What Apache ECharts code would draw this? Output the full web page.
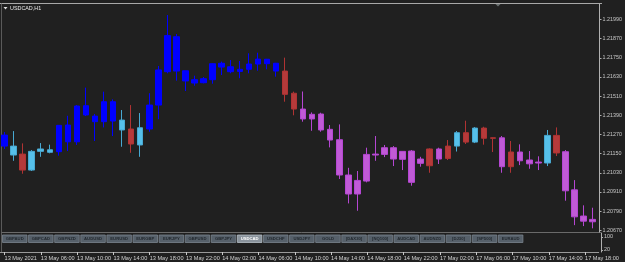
<!DOCTYPE html>
<html>
<head>
<meta charset="utf-8">
<script src="https://cdn.jsdelivr.net/npm/echarts@6/dist/echarts.min.js"></script>
<style>
  html, body { margin: 0; padding: 0; background: #202020; }
  #chart { width: 625px; height: 262px; }
</style>
</head>
<body>
<div id="chart"></div>
<script>
// USDCAD H1, 13 May 02:00 .. 17 May 19:00
const times = [
  "13 May 02:00","13 May 03:00","13 May 04:00","13 May 05:00","13 May 06:00","13 May 07:00","13 May 08:00","13 May 09:00",
  "13 May 10:00","13 May 11:00","13 May 12:00","13 May 13:00","13 May 14:00","13 May 15:00","13 May 16:00","13 May 17:00",
  "13 May 18:00","13 May 19:00","13 May 20:00","13 May 21:00","13 May 22:00","13 May 23:00",
  "14 May 00:00","14 May 01:00","14 May 02:00","14 May 03:00","14 May 04:00","14 May 05:00","14 May 06:00","14 May 07:00",
  "14 May 08:00","14 May 09:00","14 May 10:00","14 May 11:00","14 May 12:00","14 May 13:00","14 May 14:00","14 May 15:00",
  "14 May 16:00","14 May 17:00","14 May 18:00","14 May 19:00","14 May 20:00","14 May 21:00","14 May 22:00","14 May 23:00",
  "17 May 00:00","17 May 01:00","17 May 02:00","17 May 03:00","17 May 04:00","17 May 05:00","17 May 06:00","17 May 07:00",
  "17 May 08:00","17 May 09:00","17 May 10:00","17 May 11:00","17 May 12:00","17 May 13:00","17 May 14:00","17 May 15:00",
  "17 May 16:00","17 May 17:00","17 May 18:00","17 May 19:00"
];
const opens = [
  1.21266,1.21141,1.21147,1.21047,1.21164,1.21158,1.21162,1.21329,1.21224,1.21450,
  1.21385,1.21350,1.21475,1.21298,1.21304,1.21204,1.21304,1.21454,1.21663,1.21882,
  1.21669,1.21613,1.21594,1.21613,1.21716,1.21694,1.21665,1.21678,1.21711,1.21741,
  1.21716,1.21667,1.21528,1.21429,1.21367,1.21398,1.21302,1.21237,1.21016,1.20897,
  1.20978,1.21147,1.21145,1.21187,1.21114,1.21166,1.21116,1.21179,1.21116,1.21197,
  1.21197,1.21281,1.21222,1.21310,1.21249,1.21249,1.21160,1.21105,1.21110,1.21091,
  1.21091,1.21264,1.21162,1.20923,1.20759,1.20723
];
const closes = [
  1.21197,1.21197,1.21047,1.21164,1.21179,1.21174,1.21327,1.21224,1.21448,1.21392,
  1.21350,1.21475,1.21354,1.21360,1.21210,1.21312,1.21454,1.21674,1.21889,1.21667,
  1.21605,1.21592,1.21619,1.21713,1.21692,1.21663,1.21678,1.21711,1.21742,1.21713,
  1.21667,1.21521,1.21429,1.21367,1.21396,1.21298,1.21235,1.21016,1.20897,1.20982,
  1.21145,1.21141,1.21187,1.21116,1.21164,1.20970,1.21089,1.21074,1.21179,1.21120,
  1.21281,1.21222,1.21310,1.21246,1.21246,1.21068,1.21068,1.21160,1.21086,1.21097,
  1.21264,1.21154,1.20917,1.20754,1.20727,1.20738
];
const lows = [
  1.21179,1.21105,1.21024,1.21041,1.21130,1.21152,1.21137,1.21166,1.21204,1.21385,
  1.21229,1.21314,1.21260,1.21193,1.21155,1.21130,1.21287,1.21365,1.21653,1.21607,
  1.21542,1.21575,1.21590,1.21588,1.21642,1.21653,1.21622,1.21653,1.21669,1.21678,
  1.21632,1.21475,1.21390,1.21350,1.21293,1.21287,1.21189,1.20991,1.20838,1.20792,
  1.20970,1.21105,1.21128,1.21072,1.21047,1.20949,1.21068,1.21030,1.21085,1.21110,
  1.21163,1.21210,1.21216,1.21206,1.21160,1.21030,1.21030,1.21078,1.21055,1.21047,
  1.21072,1.21135,1.20855,1.20702,1.20696,1.20682
];
const highs = [
  1.21285,1.21291,1.21214,1.21172,1.21216,1.21206,1.21329,1.21387,1.21454,1.21563,
  1.21398,1.21538,1.21490,1.21423,1.21454,1.21404,1.21528,1.21699,1.22018,1.21899,
  1.21669,1.21638,1.21630,1.21716,1.21726,1.21736,1.21730,1.21778,1.21782,1.21743,
  1.21718,1.21751,1.21538,1.21539,1.21408,1.21406,1.21329,1.21333,1.21061,1.21041,
  1.21187,1.21260,1.21204,1.21197,1.21166,1.21172,1.21130,1.21183,1.21187,1.21235,
  1.21291,1.21356,1.21316,1.21318,1.21251,1.21260,1.21229,1.21208,1.21166,1.21133,
  1.21298,1.21314,1.21172,1.20984,1.20826,1.20811
];
// candle colour state: B = trend up (blue), L = bull, R = bear, P = trend down (violet)
const states = "BLRLLLBBBBBBBLRLBBBBBBBBBBBBBBBRRPPPPPPPPPPPPPPRPRLRLRRPRPPPLRPPPP".split("");
const priceTicks = [1.20670,1.20790,1.20910,1.21030,1.21150,1.21270,1.21390,1.21510,1.21630,1.21750,1.21870,1.21990];
const subTicks = [20, 100];
const tabNames = ["GBPAUD","GBPCAD","GBPNZD","AUDUSD","EURUSD","EURGBP","EURJPY","GBPUSD","GBPJPY","USDCAD",
  "USDCHF","USDJPY","GOLD","[DAX30]","[NQ100]","AUDCAD","AUDNZD","[DJ30]","[SP500]","EURAUD"];
const activeTab = "USDCAD";

const palette = {
  B: { fill: "#0000ff", edge: "#0000ff" },
  L: { fill: "#56c0ea", edge: "#48a9d2" },
  R: { fill: "#b53a3a", edge: "#b03333" },
  P: { fill: "#c05ad6", edge: "#b546d3" }
};

const candles = opens.map(function (o, i) {
  const c = palette[states[i]];
  return {
    value: [o, closes[i], lows[i], highs[i]],
    itemStyle: { color: c.fill, color0: c.fill, borderColor: c.edge, borderColor0: c.edge }
  };
});

var myChart = echarts.init(document.getElementById("chart"), null, { renderer: "canvas" });

const gridLeft = -3.26, gridRight = 26.34;
const font = "Liberation Sans";

// symbol tabs drawn in the sub window
const tabs = [];
tabNames.forEach(function (name, k) {
  const on = name === activeTab;
  tabs.push({
    type: "rect",
    shape: { x: 2.5 + 26.1 * k, y: 235, width: 24.5, height: 7.5 },
    style: { fill: on ? "#8a939c" : "#56606a", stroke: on ? "#b8c0c8" : "#7a848e", lineWidth: 0.8 },
    z: 50
  });
  tabs.push({
    type: "text",
    x: 2.5 + 26.1 * k + 12.25, y: 238.9,
    style: { text: name, fill: on ? "#ffffff" : "#22282e", font: "bold 4.2px " + font, align: "center", verticalAlign: "middle" },
    z: 51
  });
});

let option = {
  backgroundColor: "#202020",
  animation: false,
  grid: [
    { left: gridLeft, right: gridRight, top: 4, height: 228 },
    { left: gridLeft, right: gridRight, top: 233, height: 19 }
  ],
  xAxis: [
    {
      type: "category", gridIndex: 0, data: times, boundaryGap: true,
      axisLine: { show: false }, axisTick: { show: false }, axisLabel: { show: false }, splitLine: { show: false }
    },
    {
      type: "category", gridIndex: 1, data: times, boundaryGap: true,
      axisLine: { show: true, lineStyle: { color: "#9a9a9a", width: 1 } },
      axisTick: { show: true, interval: 3, alignWithLabel: true, length: 3, lineStyle: { color: "#c8c8c8" } },
      axisLabel: {
        interval: 3, align: "left", margin: 3, color: "#d0d0d0", fontSize: 5.6, fontFamily: font,
        formatter: function (v, i) { return i === 0 ? "13 May 2021" : v; }
      },
      splitLine: { show: false }
    }
  ],
  yAxis: [
    {
      type: "value", gridIndex: 0, position: "right", offset: 2.4, scale: true,
      min: 1.20659, max: 1.22087,
      axisLine: { show: true, onZero: false, lineStyle: { color: "#b0b0b0", width: 1 } },
      axisTick: { show: true, length: 2, customValues: priceTicks, lineStyle: { color: "#b0b0b0" } },
      axisLabel: {
        customValues: priceTicks, margin: 3, color: "#c8c8c8", fontSize: 5.4, fontFamily: font,
        formatter: function (v) { return v.toFixed(5); }
      },
      splitLine: { show: false }
    },
    {
      type: "value", gridIndex: 1, position: "right", offset: 2.4,
      min: 7.7, max: 124.6,
      axisLine: { show: true, onZero: false, lineStyle: { color: "#b0b0b0", width: 1 } },
      axisTick: { show: true, length: 2, customValues: subTicks, lineStyle: { color: "#b0b0b0" } },
      axisLabel: { customValues: subTicks, margin: 3, color: "#c8c8c8", fontSize: 5.4, fontFamily: font },
      splitLine: { show: false }
    }
  ],
  series: [
    {
      name: "USDCAD,H1",
      type: "candlestick",
      xAxisIndex: 0, yAxisIndex: 0,
      barWidth: 6,
      data: candles
    }
  ],
  graphic: [
    // window frame
    { type: "line", shape: { x1: 0, y1: 3.5, x2: 602, y2: 3.5 }, style: { stroke: "#a8a8a8", lineWidth: 1 } },
    { type: "line", shape: { x1: 1.5, y1: 3.5, x2: 1.5, y2: 252.5 }, style: { stroke: "#5a5a5a", lineWidth: 1 } },
    { type: "line", shape: { x1: 1.5, y1: 232.5, x2: 601, y2: 232.5 }, style: { stroke: "#6a6a6a", lineWidth: 1 } },
    // shift marker
    { type: "polygon", shape: { points: [[495.5, 4], [500.5, 4], [498, 6.5]] }, style: { fill: "#6a7070" } },
    // title
    { type: "polygon", shape: { points: [[3.5, 7], [7.5, 7], [5.5, 9.5]] }, style: { fill: "#e0e0e0" } },
    { type: "text", x: 10, y: 8.3, style: { text: "USDCAD,H1", fill: "#e8e8e8", font: "5.4px " + font, verticalAlign: "middle" } }
  ].concat(tabs)
};

myChart.setOption(option);
</script>
</body>
</html>
